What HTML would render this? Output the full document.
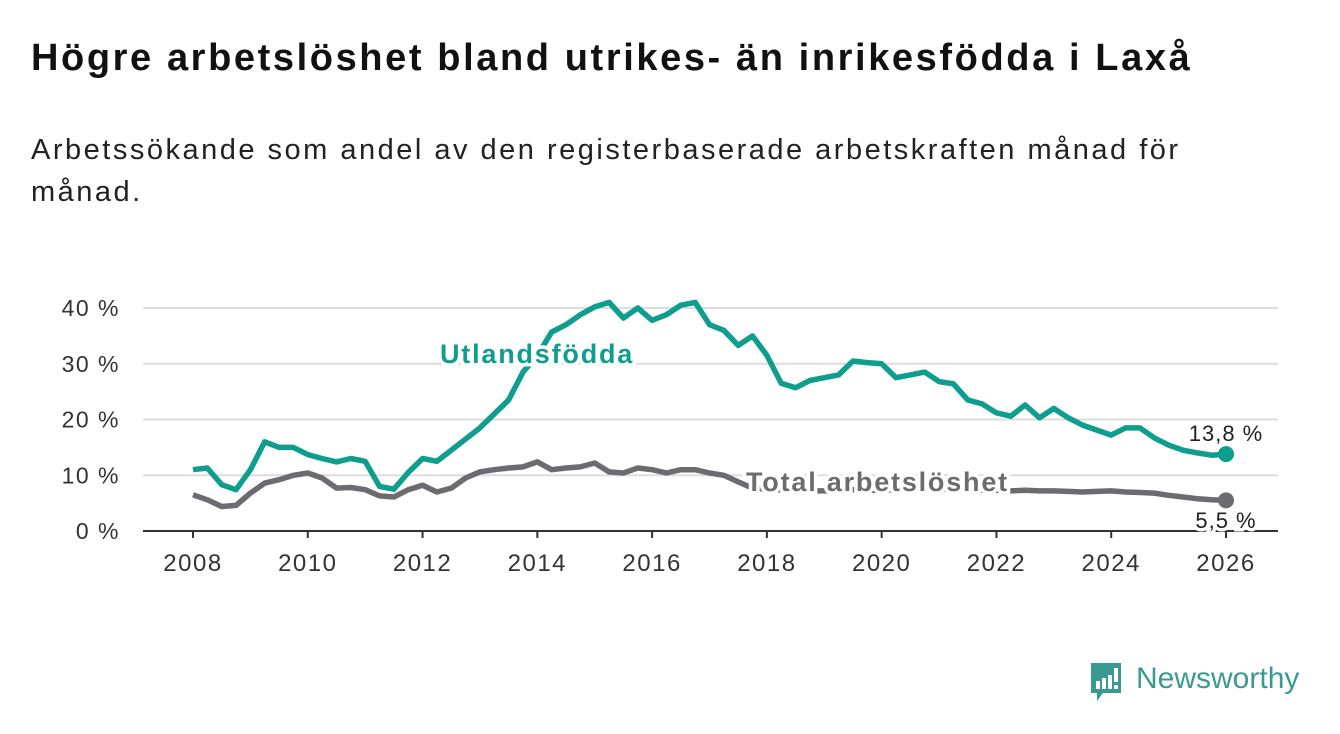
<!DOCTYPE html>
<html><head><meta charset="utf-8"><style>
body{margin:0;background:#fff;width:1340px;height:734px;overflow:hidden;font-family:"Liberation Sans",sans-serif}
h1{position:absolute;left:31px;top:37px;margin:0;font-size:38px;letter-spacing:2.6px;font-weight:bold;color:#111;white-space:nowrap}
p{position:absolute;left:31px;top:129px;margin:0;font-size:29px;letter-spacing:2.5px;line-height:42px;color:#222;width:1250px;white-space:nowrap}
</style></head><body>
<h1>Högre arbetslöshet bland utrikes- än inrikesfödda i Laxå</h1>
<p>Arbetssökande som andel av den registerbaserade arbetskraften månad för<br>månad.</p>
<svg id="c" width="1340" height="734" style="position:absolute;left:0;top:0"></svg>
<script>
const years=[2008,2010,2012,2014,2016,2018,2020,2022,2024,2026];
const yTicks=[0,10,20,30,40];
const foreign=[11,11.3,8.3,7.4,11,16,15,15,13.7,13,12.4,13,12.5,8,7.5,10.5,13,12.5,14.5,16.5,18.5,21,23.5,28.5,31.5,35.7,37,38.8,40.2,41,38.2,40,37.8,38.8,40.5,41,37,36,33.3,35,31.5,26.5,25.7,27,27.5,28,30.5,30.2,30,27.5,28,28.5,26.8,26.4,23.5,22.8,21.2,20.6,22.6,20.3,22,20.3,19,18.1,17.2,18.5,18.5,16.7,15.4,14.5,14,13.6,13.8];
const total=[6.5,5.6,4.4,4.6,6.8,8.6,9.2,10,10.4,9.5,7.7,7.8,7.4,6.3,6.1,7.4,8.2,7,7.7,9.5,10.6,11,11.3,11.5,12.4,11,11.3,11.5,12.2,10.6,10.4,11.3,11,10.4,11,11,10.4,10,8.8,7.7,7.5,7.4,7.3,7.2,7.2,7.3,7.4,7.3,7.3,7.4,7.5,7.6,7.6,7.5,7.4,7.3,7.3,7.2,7.3,7.2,7.2,7.1,7,7.1,7.2,7,6.9,6.8,6.4,6.1,5.8,5.6,5.5];
const X=t=>193+(t-2008)*(1033/18), Y=v=>531-v*5.575;
const s=document.getElementById('c');const NS='http://www.w3.org/2000/svg';
function mk(tag,attrs,parent){const e=document.createElementNS(NS,tag);for(const k in attrs)e.setAttribute(k,attrs[k]);(parent||s).appendChild(e);return e;}
yTicks.forEach(v=>{
 if(v>0){const g=mk('line',{x1:143,x2:1278,y1:Y(v),y2:Y(v),stroke:'#ddd','stroke-width':2});
 
 }
 const t=mk('text',{x:120,y:Y(v)+8,'text-anchor':'end','font-size':23,'letter-spacing':1.5,fill:'#333'});t.textContent=v+' %';
 
 
});
const ax=mk('line',{x1:143,x2:1278,y1:531,y2:531,stroke:'#333','stroke-width':2});


years.forEach(y=>{
 mk('line',{x1:X(y),x2:X(y),y1:531,y2:538,stroke:'#333','stroke-width':2});
 const t=mk('text',{x:X(y),y:571,'text-anchor':'middle','font-size':24,'letter-spacing':1.5,fill:'#333'});t.textContent=y;
 
 
});
function line(d,col,name){
 const p=d.map((v,i)=>(i?'L':'M')+X(2008+i*0.25).toFixed(1)+','+Y(v).toFixed(1)).join('');
 const e=mk('path',{d:p,fill:'none',stroke:col,'stroke-width':5.5,'stroke-linejoin':'round'});
 
 
 const c=mk('circle',{cx:X(2008+(d.length-1)*0.25),cy:Y(d[d.length-1]),r:8,fill:col});
 
 
}
line(total,'#6d6b70','total');
line(foreign,'#0f9e8e','foreign');
function lab(x,y,txt,col,size,bold,name,anchor,ls){
 const t=mk('text',{x:x,y:y,'font-size':size,'letter-spacing':ls,'font-weight':bold?'bold':'normal',fill:col,stroke:'#fff','stroke-width':7,'paint-order':'stroke','text-anchor':anchor||'start'});
 t.textContent=txt;
 
 
}
lab(440,363,'Utlandsfödda','#0f9e8e',27,true,'foreign-label','start',1.8);
lab(746,491,'Total arbetslöshet','#6d6b70',27,true,'total-label','start',1.8);
lab(1226,441,'13,8 %','#222',22,false,'foreign-end-value','middle',1);
lab(1226,528,'5,5 %','#222',22,false,'total-end-value','middle',1);
</script>
<div style="position:absolute;left:1089px;top:661px;width:230px;height:44px">
<svg width="36" height="44" style="position:absolute;left:0;top:0"><path d="M2 2h30v30H14l-6 8v-8H2z" fill="#3a9a92"/><rect x="7" y="20" width="4" height="8" fill="#fff"/><rect x="13" y="17" width="4" height="11" fill="#fff"/><rect x="19" y="14" width="4" height="14" fill="#fff"/><rect x="25" y="7" width="4" height="14" fill="#fff"/><rect x="25" y="24" width="4" height="4" fill="#fff"/></svg>
<span style="position:absolute;left:47px;top:1px;font-size:30px;color:#3a9a92">Newsworthy</span></div>
</body></html>
